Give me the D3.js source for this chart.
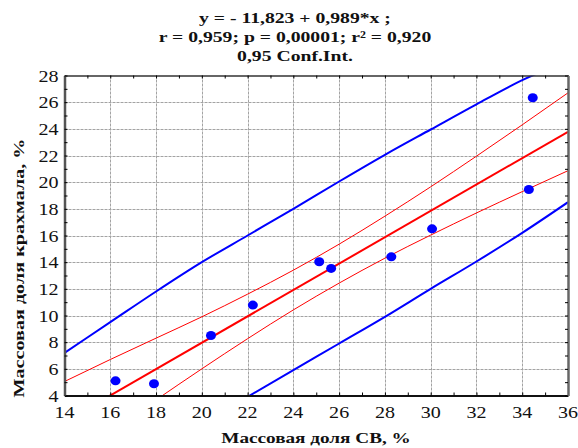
<!DOCTYPE html>
<html>
<head>
<meta charset="utf-8">
<script src="https://cdn.jsdelivr.net/npm/d3@7"></script>
<style>
  body { margin: 0; background: #fff; }
  svg { display: block; }
  text { font-family: "Liberation Serif", "Times New Roman", serif; }
</style>
</head>
<body>
<div id="viz"></div>
<script>
// observed points
var pointsX = [16.23, 17.91, 20.4, 22.23, 25.13, 25.65, 28.28, 30.06, 34.29, 34.46],
    pointsY = [5.1, 4.88, 8.5, 10.78, 14.03, 13.53, 14.4, 16.5, 19.45, 26.33],

    // regression y = a + b*x
    regA = -11.823,
    regB = 0.989,

    // bands at even x
    bandX      = [14, 16, 18, 20, 22, 24, 26, 28, 30, 32, 34, 36],
    ciUpper    = [5.05, 6.7, 8.3, 9.9, 11.6, 13.4, 15.35, 17.45, 19.65, 21.95, 24.3, 26.7],
    ciLower    = [-1.1, 1.3, 3.67, 6.0, 8.26, 10.42, 12.43, 14.3, 16.03, 17.69, 19.29, 20.86],
    predUpper  = [7.2, 9.5, 11.8, 14.0, 16.0, 18.0, 20.05, 22.05, 23.95, 25.84, 27.65, 29.1],
    predLowerX = [20, 22, 24, 26, 28, 30, 32, 34, 36],
    predLower  = [1.9, 3.9, 5.9, 7.9, 9.9, 12.0, 14.05, 16.2, 18.5],

    xTicks = [14, 16, 18, 20, 22, 24, 26, 28, 30, 32, 34, 36],
    yTicks = [4, 6, 8, 10, 12, 14, 16, 18, 20, 22, 24, 26, 28],

    titleLines = ['y = - 11,823 + 0,989*x ;', 'r = 0,959; p = 0,00001; r² = 0,920', '0,95 Conf.Int.'],
    xTitle = 'Массовая доля СВ, %',
    yTitle = 'Массовая доля крахмала, %';

var W = 578, H = 448,
    pLeft = 64.5, pRight = 568, pTop = 75.5, pBottom = 395.5;

var svg = d3.select('#viz').append('svg')
    .attr('width', W)
    .attr('height', H);

var x = d3.scaleLinear().domain([14, 36]).range([pLeft, pRight]),
    y = d3.scaleLinear().domain([4, 28]).range([pBottom, pTop]);

svg.append('defs').append('clipPath')
    .attr('id', 'plotClip')
  .append('rect')
    .attr('x', pLeft).attr('y', pTop)
    .attr('width', pRight - pLeft).attr('height', pBottom - pTop);

// grid
var grid = svg.append('g').attr('class', 'grid')
    .attr('stroke', '#a3a3a3')
    .attr('stroke-width', 1)
    .attr('stroke-dasharray', '3,1');

grid.selectAll('.gx')
    .data(xTicks.slice(1, -1))
  .enter().append('line')
    .attr('x1', function (d) { return Math.round(x(d)) + 0.5; })
    .attr('x2', function (d) { return Math.round(x(d)) + 0.5; })
    .attr('y1', pTop).attr('y2', pBottom);

grid.selectAll('.gy')
    .data(yTicks.slice(1, -1))
  .enter().append('line')
    .attr('y1', function (d) { return Math.round(y(d)) + 0.5; })
    .attr('y2', function (d) { return Math.round(y(d)) + 0.5; })
    .attr('x1', pLeft).attr('x2', pRight);

// lines
var plot = svg.append('g').attr('clip-path', 'url(#plotClip)');

var line = d3.line()
    .x(function (d) { return x(d[0]); })
    .y(function (d) { return y(d[1]); })
    .curve(d3.curveMonotoneX);

var zip = function (xs, ys) {
    return xs.map(function (v, i) { return [v, ys[i]]; });
};

var drawLine = function (data, color, width) {
    plot.append('path')
        .datum(data)
        .attr('d', line)
        .attr('fill', 'none')
        .attr('stroke', color)
        .attr('stroke-width', width);
};

drawLine(zip(bandX, ciUpper), '#ff0000', 1);
drawLine(zip(bandX, ciLower), '#ff0000', 1);
drawLine([[14, regA + regB * 14], [36, regA + regB * 36]], '#ff0000', 2);
drawLine(zip(bandX, predUpper), '#0000ff', 2);
drawLine(zip(predLowerX, predLower), '#0000ff', 2);

// points
plot.selectAll('.dot')
    .data(zip(pointsX, pointsY))
  .enter().append('ellipse')
    .attr('cx', function (d) { return x(d[0]); })
    .attr('cy', function (d) { return y(d[1]); })
    .attr('rx', 5)
    .attr('ry', 4.5)
    .attr('fill', '#0000ff');

// axes with inward ticks
var minorX = d3.range(14, 37, 1),
    minorY = d3.range(4, 29, 1);

svg.append('g')
    .attr('transform', 'translate(0,' + pBottom + ')')
    .call(d3.axisBottom(x).tickValues(minorX).tickSizeInner(-3).tickSizeOuter(0).tickFormat(''))
    .call(function (g) { g.select('.domain').attr('stroke-width', 2).attr('stroke', '#111'); });

svg.append('g')
    .attr('transform', 'translate(0,' + pTop + ')')
    .call(d3.axisTop(x).tickValues(minorX).tickSizeInner(-3).tickSizeOuter(0).tickFormat(''))
    .call(function (g) { g.select('.domain').attr('stroke-width', 1.5).attr('stroke', '#333'); });

svg.append('g')
    .attr('transform', 'translate(' + pLeft + ',0)')
    .call(d3.axisLeft(y).tickValues(minorY).tickSizeInner(-3).tickSizeOuter(0).tickFormat(''))
    .call(function (g) { g.select('.domain').attr('stroke-width', 2.5).attr('stroke', '#555'); });

svg.append('g')
    .attr('transform', 'translate(' + pRight + ',0)')
    .call(d3.axisRight(y).tickValues(minorY).tickSizeInner(-3).tickSizeOuter(0).tickFormat(''))
    .call(function (g) { g.select('.domain').attr('stroke-width', 2.5).attr('stroke', '#666'); });

// text drawn a bit wider than the font, like the original
var addText = function (parent, tx, ty, rot, sx, size, weight, anchor, str) {
    parent.append('text')
        .attr('transform', 'translate(' + tx + ',' + ty + ') rotate(' + rot + ') scale(' + sx + ',1)')
        .attr('text-anchor', anchor)
        .attr('font-size', size)
        .attr('font-weight', weight)
        .attr('fill', '#111')
        .text(str);
};

var labels = svg.append('g');

xTicks.forEach(function (d) {
    addText(labels, x(d), pBottom + 22, 0, 1.18, 17, 'normal', 'middle', d);
});

yTicks.forEach(function (d) {
    addText(labels, pLeft - 6, y(d) + 6, 0, 1.18, 17, 'normal', 'end', d);
});

titleLines.forEach(function (d, i) {
    addText(labels, 295, 23 + i * 19, 0, 1.27, 15.5, 'bold', 'middle', d);
});

addText(labels, 316, 443, 0, 1.24, 15.5, 'bold', 'middle', xTitle);
addText(labels, 24, 268, -90, 1.3, 15.5, 'bold', 'middle', yTitle);
</script>
</body>
</html>
